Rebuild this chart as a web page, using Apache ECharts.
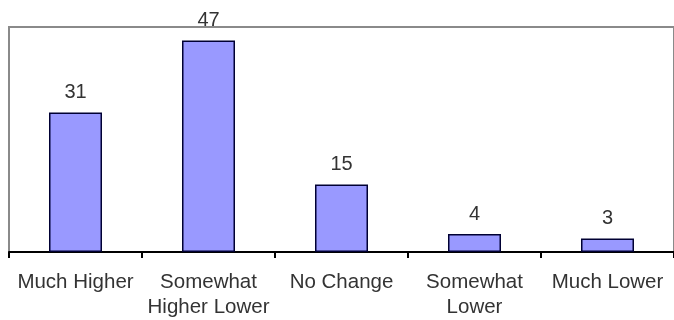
<!DOCTYPE html>
<html>
<head>
<meta charset="utf-8">
<script src="https://cdn.jsdelivr.net/npm/echarts@6/dist/echarts.min.js"></script>
<style>
  html, body { margin: 0; padding: 0; background: #fff; }
  #main { width: 674px; height: 320px; }
</style>
</head>
<body>
<div id="main"></div>
<script>
var categories = ['Much Higher', 'Somewhat\nHigher Lower', 'No Change', 'Somewhat\nLower', 'Much Lower'];
var values = [31, 47, 15, 4, 3];

var myChart = echarts.init(document.getElementById('main'));
var option = {
    animation: false,
    textStyle: { fontFamily: 'Liberation Sans, Arial, sans-serif' },
    grid: {
        show: true,
        left: 9, top: 27, width: 672, height: 225,
        borderColor: '#8a8a8a',
        borderWidth: 2
    },
    xAxis: {
        type: 'category',
        data: categories,
        axisLine: { lineStyle: { color: '#000', width: 2 } },
        axisTick: { show: true, length: 6, lineStyle: { color: '#000', width: 2 } },
        axisLabel: {
            interval: 0,
            fontSize: 20.5,
            color: '#333',
            margin: 18,
            lineHeight: 25
        }
    },
    yAxis: {
        type: 'value',
        min: 0,
        max: 50,
        axisLine: { show: false },
        axisTick: { show: false },
        axisLabel: { show: false },
        splitLine: { show: false }
    },
    series: [{
        type: 'bar',
        data: values,
        barWidth: 53,
        itemStyle: {
            color: '#9999ff',
            borderColor: '#000033',
            borderWidth: 1.5
        },
        label: {
            show: true,
            position: 'top',
            distance: 10,
            fontSize: 20,
            color: '#333'
        }
    }]
};
myChart.setOption(option);
</script>
</body>
</html>
